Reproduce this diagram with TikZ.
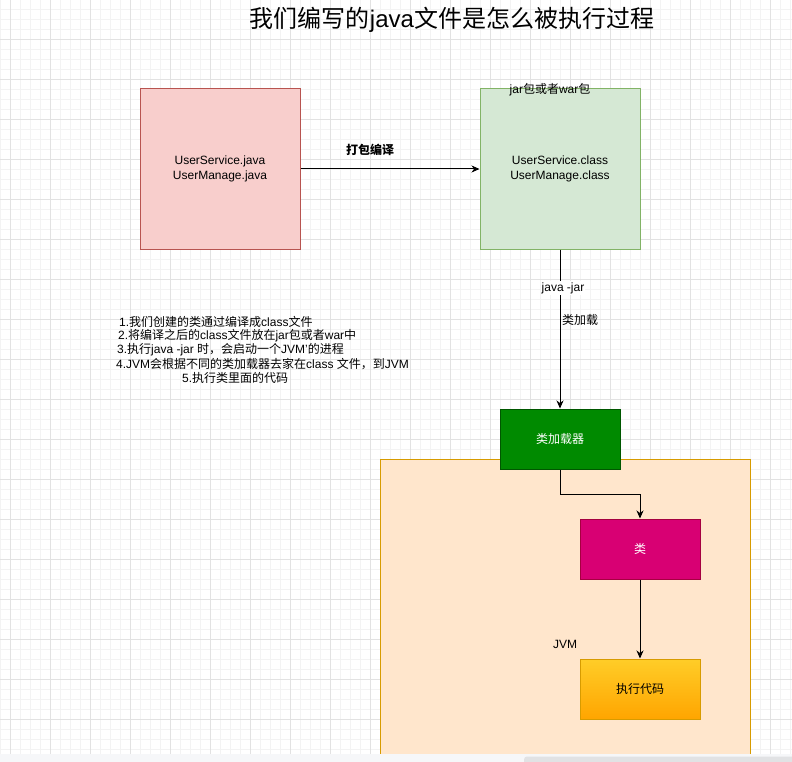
\documentclass[tikz,border=0pt]{standalone}
\usepackage{fontspec}
\setmainfont{Liberation Sans}
\newfontfamily\cjk{Noto Sans CJK SC}
\usepackage{xcolor}
\usetikzlibrary{arrows.meta}

\definecolor{gridminor}{HTML}{F3F3F3}
\definecolor{gridmajor}{HTML}{E2E2E2}
\definecolor{redfill}{HTML}{F8CECC}
\definecolor{redline}{HTML}{B85450}
\definecolor{greenfill}{HTML}{D5E8D4}
\definecolor{greenline}{HTML}{82B366}
\definecolor{loaderfill}{HTML}{008A00}
\definecolor{loaderline}{HTML}{005700}
\definecolor{jvmfill}{HTML}{FFE6CC}
\definecolor{jvmline}{HTML}{D79B00}
\definecolor{classfill}{HTML}{D80073}
\definecolor{classline}{HTML}{A50040}
\definecolor{runtop}{HTML}{FFCD28}
\definecolor{runbottom}{HTML}{FFA500}
\definecolor{stripgray}{HTML}{F6F7F9}
\definecolor{scrollgray}{HTML}{E1E2E4}

\begin{document}
\begin{tikzpicture}[x=1pt,y=-1pt,
    box/.style={draw,line width=1pt,inner sep=0pt,align=center,font=\fontsize{12}{15}\selectfont},
    bigbox/.style={box,minimum width=160pt,minimum height=160pt},
    smallbox/.style={box,minimum width=120pt,minimum height=60pt},
    txt/.style={inner sep=0pt,font=\fontsize{12}{14}\selectfont},
    arr/.style={-{Stealth[length=8pt,width=7pt,inset=2.5pt]},line width=1pt}]
    \useasboundingbox (0,0) rectangle (792,762);
    \clip (0,0) rectangle (792,762);
    % grid
    \foreach \i in {0,10,...,790} \draw[gridminor,line width=0.8pt] (\i,0)--(\i,754);
    \foreach \j in {9.5,19.5,...,749.5} \draw[gridminor,line width=0.8pt] (0,\j)--(792,\j);
    \foreach \i in {10,50,...,770} \draw[gridmajor,line width=0.8pt] (\i,0)--(\i,754);
    \foreach \j in {39.5,79.5,...,719.5} \draw[gridmajor,line width=0.8pt] (0,\j)--(792,\j);

    \node[txt,font=\fontsize{24}{28}\selectfont] (title) at (452,20) {{\cjk 我们编写的}java{\cjk 文件是怎么被执行过程}};

    \node[bigbox,fill=redfill,draw=redline] (src) at (220,169) {UserService.java\\UserManage.java};
    \node[bigbox,fill=greenfill,draw=greenline] (pkg) at (560,169) {UserService.class\\UserManage.class};
    \node[txt] (pkglabel) at (550,90) {jar{\cjk 包或者}war{\cjk 包}};
    \draw[arr] (src.east)--(pkg.west);
    \node[txt,font=\cjk\bfseries\fontsize{12}{14}\selectfont] (packlabel) at (370,150) {打包编译};

    \node[box,anchor=north west,fill=jvmfill,draw=jvmline,minimum width=370pt,minimum height=340pt] (jvm) at (380,459) {};
    \node[smallbox,fill=loaderfill,draw=loaderline,text=white] (loader) at (560,439) {\cjk 类加载器};
    \node[smallbox,fill=classfill,draw=classline,text=white] (cls) at (640,549) {\cjk 类};
    \node[smallbox,top color=runtop,bottom color=runbottom,draw=jvmline] (run) at (640,689) {\cjk 执行代码};
    \node[txt] (jvmlabel) at (565,644) {JVM};

    \draw[arr] (pkg.south)--(loader.north);
    \node[txt,fill=white,inner sep=1pt] (jarlabel) at (563,288) {java -jar};
    \node[txt] (loadlabel) at (580,320) {\cjk 类加载};
    \draw[arr] (loader.south)--++(0,25)-|(cls.north);
    \draw[arr] (cls.south)--(run.north);

    % notes
    \foreach \x/\y/\t [count=\i] in {119/322/{1.{\cjk 我们创建的类通过编译成}class{\cjk 文件}},
        118/336/{2.{\cjk 将编译之后的}class{\cjk 文件放在}jar{\cjk 包或者}war{\cjk 中}},
        117/350/{3.{\cjk 执行}java -jar {\cjk 时，会启动一个}JVM'{\cjk 的进程}},
        116/364/{4.JVM{\cjk 会根据不同的类加载器去家在}class {\cjk 文件，到}JVM},
        182/378/{5.{\cjk 执行类里面的代码}}}
        \node[txt,anchor=west] (note\i) at (\x,\y) {\t};

    % bottom strip
    \fill[stripgray] (0,754) rectangle (792,762);
    \fill[scrollgray,rounded corners=3pt] (524,756.5) rectangle (800,768);
\end{tikzpicture}
\end{document}
